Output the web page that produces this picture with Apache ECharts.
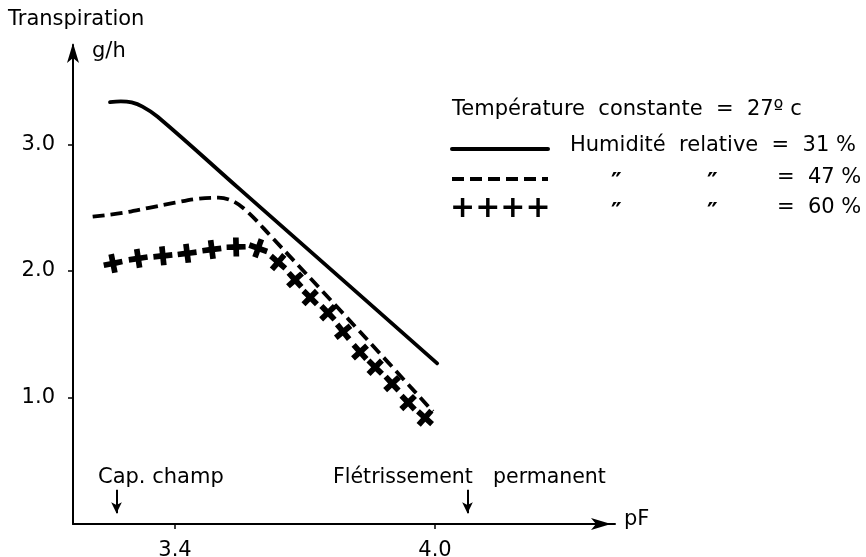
<!DOCTYPE html>
<html>
<head>
<meta charset="utf-8">
<script src="https://cdn.jsdelivr.net/npm/echarts@6/dist/echarts.min.js"></script>
<style>html,body{margin:0;padding:0;background:#fff}#c{width:866px;height:557px}</style>
</head>
<body>
<div id="c"></div>
<script>
// ---- data ----
const xTicks = [3.4, 4.0];
const yTicks = [1.0, 2.0, 3.0];

const pF31 = [3.25, 3.275, 3.30, 3.325, 3.36, 3.55, 3.80, 4.005];
const T31  = [3.335, 3.342, 3.333, 3.30, 3.22, 2.645, 1.89, 1.27];

const pF47 = [3.21, 3.28, 3.34, 3.40, 3.45, 3.50, 3.535, 3.57, 3.62, 3.80, 3.995];
const T47  = [2.43, 2.46, 2.50, 2.54, 2.57, 2.58, 2.55, 2.46, 2.28, 1.62, 0.89];

const pF60 = [3.257, 3.315, 3.372, 3.428, 3.485, 3.541, 3.592, 3.638, 3.677, 3.712, 3.753, 3.788, 3.827, 3.862, 3.901, 3.938, 3.977];
const T60  = [2.06, 2.10, 2.12, 2.14, 2.17, 2.19, 2.18, 2.07, 1.93, 1.79, 1.67, 1.52, 1.36, 1.24, 1.11, 0.96, 0.84];

const capChamp = 3.265;
const fletrissement = 4.075;

const xMin = 3.1646, xMax = 4.4154;
const yMin = 0, yMax = 3.787;

const pair = (xs, ys) => xs.map((x, i) => [x, ys[i]]);

const FONT = 'DejaVu Sans';
const plusPath = 'path://M3.5,0h3v3.5h3.5v3h-3.5v3.5h-3v-3.5h-3.5v-3h3.5z';

const chart = echarts.init(document.getElementById('c'), null, {renderer: 'canvas'});

const gridW = 542, gridH = 479;
const sx = gridW / (xMax - xMin), sy = gridH / (yMax - yMin);
function crossRot(value, params) {
  const i = params.dataIndex;
  const a = Math.max(0, i - 1), b = Math.min(pF60.length - 1, i + 1);
  const dx = (pF60[b] - pF60[a]) * sx, dy = (T60[b] - T60[a]) * sy;
  return Math.atan2(dy, dx) * 180 / Math.PI;
}

const arrowLine = (x) => ({
  type: 'line', data: [], silent: true,
  markLine: {
    silent: true, symbol: ['none', 'arrow'], symbolSize: [8, 11],
    lineStyle: {color: '#000', width: 2, type: 'solid'}, label: {show: false},
    data: [[{coord: [x, 0.27]}, {coord: [x, 0.085]}]]
  }
});

const txt = (text, left, top, size, extra) => ({
  type: 'text', left, top,
  style: Object.assign({text, fontFamily: FONT, fontSize: size, fill: '#000'}, extra || {})
});

chart.setOption({
  animation: false,
  backgroundColor: '#fff',
  grid: {left: 73, top: 45, width: gridW, height: gridH, containLabel: false, outerBoundsMode: 'none'},
  xAxis: {
    type: 'value', min: xMin, max: xMax,
    axisLine: {show: true, symbol: ['none', 'arrow'], symbolSize: [9, 20], symbolOffset: [0, -4], lineStyle: {color: '#000', width: 2}},
    axisTick: {show: true, customValues: xTicks, length: 5, lineStyle: {color: '#000', width: 1.5}},
    axisLabel: {customValues: xTicks, color: '#000', fontFamily: FONT, fontSize: 21, margin: 16,
      formatter: v => v.toFixed(1)},
    splitLine: {show: false}
  },
  yAxis: {
    type: 'value', min: yMin, max: yMax,
    axisLine: {show: true, symbol: ['none', 'arrow'], symbolSize: [9, 20], symbolOffset: [0, 2], lineStyle: {color: '#000', width: 2}},
    axisTick: {show: true, customValues: yTicks, length: 5, lineStyle: {color: '#000', width: 1.5}},
    axisLabel: {customValues: yTicks, color: '#000', fontFamily: FONT, fontSize: 21, margin: 18,
      formatter: v => v.toFixed(1)},
    splitLine: {show: false}
  },
  series: [
    {name: 'HR 31 %', type: 'line', data: pair(pF31, T31), smooth: 0.4, showSymbol: false,
      lineStyle: {color: '#000', width: 3.8, cap: 'round'}},
    {name: 'HR 47 %', type: 'line', data: pair(pF47, T47), smooth: 0.35, showSymbol: false,
      lineStyle: {color: '#000', width: 3.8, type: [12, 6]}},
    {name: 'HR 60 %', type: 'scatter', data: pair(pF60, T60), symbol: plusPath, symbolSize: 19,
      symbolRotate: crossRot, itemStyle: {color: '#000', opacity: 1}},
    arrowLine(capChamp),
    arrowLine(fletrissement)
  ],
  graphic: [
    txt('Transpiration', 8, 9, 21),
    txt('g/h', 92, 41, 21),
    txt('pF', 624, 509, 21),
    txt('Cap. champ', 98, 467, 21),
    txt('Flétrissement', 333, 467, 20.5),
    txt('permanent', 493, 467, 20.5),
    // legend
    txt('Température  constante  =  27º c', 452, 99, 21),
    {type: 'line', shape: {x1: 452, y1: 149, x2: 548, y2: 149}, style: {stroke: '#000', lineWidth: 4, lineCap: 'round'}},
    txt('Humidité  relative  =  31 %', 570, 135, 21),
    {type: 'line', shape: {x1: 452, y1: 179, x2: 548, y2: 179}, style: {stroke: '#000', lineWidth: 4, lineDash: [12, 6]}},
    txt('″', 611, 172, 24, {fontWeight: 'bold'}),
    txt('″', 707, 172, 24, {fontWeight: 'bold'}),
    txt('=  47 %', 777, 167, 21),
    txt('++++', 450, 194, 30, {fontWeight: 'bold'}),
    txt('″', 611, 202, 24, {fontWeight: 'bold'}),
    txt('″', 707, 202, 24, {fontWeight: 'bold'}),
    txt('=  60 %', 777, 197, 21)
  ]
});
</script>
</body>
</html>
